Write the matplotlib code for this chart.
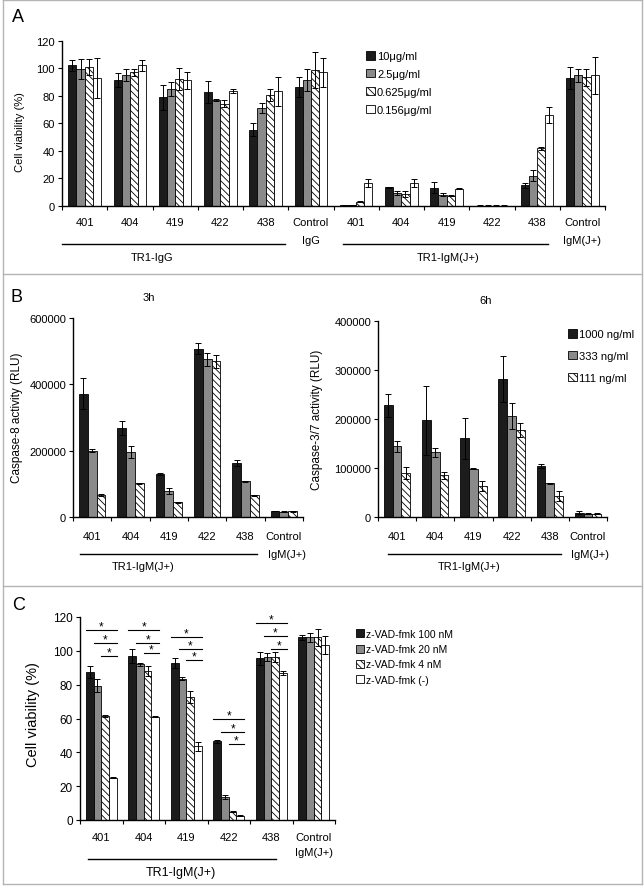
import numpy as np
import matplotlib
matplotlib.use('Agg')
import matplotlib.pyplot as plt
from matplotlib.transforms import blended_transform_factory
from matplotlib.lines import Line2D

plt.rcParams['font.family'] = ['Liberation Sans', 'DejaVu Sans']
plt.rcParams['hatch.linewidth'] = 0.6

# ---- data: panel A ----
a_groups = ['401', '404', '419', '422', '438', 'Control', '401', '404', '419', '422', '438', 'Control']
a_notes = {5: 'IgG', 11: 'IgM(J+)'}
a_labels = ['10μg/ml', '2.5μg/ml', '0.625μg/ml', '0.156μg/ml']
a_10 = [102, 91.5, 79, 83, 55.5, 86.5, 0.5, 13.5, 13.3, 0.3, 15, 92.8]
a_2_5 = [99.5, 95, 85, 77, 71, 91.6, 0.6, 9.2, 8.2, 0.3, 21.8, 94.8]
a_0_625 = [101, 97.2, 92.4, 74.2, 80.7, 98.9, 3.2, 8.7, 7.5, 0.3, 42, 93.3]
a_0_156 = [93, 102, 91.2, 83.2, 83.2, 97, 16.5, 16.5, 12.6, 0.3, 66, 94.8]
a_10_err = [4, 5, 9, 8, 4.5, 7.3, 0.2, 0.5, 4, 0.1, 2, 8]
a_2_5_err = [7.5, 4.5, 5, 0.5, 3.7, 7.8, 0.2, 1.5, 1, 0.1, 4, 5]
a_0_625_err = [6, 2.5, 8, 2.5, 4.3, 13, 0.5, 2.5, 0.5, 0.1, 1, 6]
a_0_156_err = [14.5, 4, 6, 1.5, 10.6, 10.5, 3, 3, 0.5, 0.1, 6, 13.6]

# ---- data: panel B ----
b_groups = ['401', '404', '419', '422', '438', 'Control']
b_labels = ['1000 ng/ml', '333 ng/ml', '111 ng/ml']
b3_1000 = [372000, 268000, 130000, 508000, 163000, 18000]
b3_333 = [200000, 196000, 79000, 475000, 108000, 16000]
b3_111 = [66000, 102000, 44000, 469000, 65000, 17000]
b3_1000_err = [46000, 21000, 3000, 17000, 9000, 1000]
b3_333_err = [4000, 19000, 9000, 19000, 1000, 1000]
b3_111_err = [2000, 1500, 1000, 19000, 1500, 2000]
b6_1000 = [228000, 197000, 161000, 281000, 104000, 9000]
b6_333 = [144000, 132000, 98000, 206000, 68500, 7000]
b6_111 = [89500, 84700, 63000, 178000, 43000, 7000]
b6_1000_err = [23000, 71000, 42000, 47000, 5000, 3000]
b6_333_err = [11000, 9000, 1000, 27000, 1000, 500]
b6_111_err = [12000, 7000, 10000, 14000, 9500, 500]

# ---- data: panel C ----
c_groups = ['401', '404', '419', '422', '438', 'Control']
c_labels = ['z-VAD-fmk 100 nM', 'z-VAD-fmk 20 nM', 'z-VAD-fmk 4 nM', 'z-VAD-fmk (-)']
c_100 = [87.5, 97, 93, 46.5, 95.5, 108]
c_20 = [79.5, 92, 83.5, 13.5, 96.5, 108]
c_4 = [61.5, 88, 72.5, 5, 96.5, 108]
c_none = [25, 61, 43.5, 2.5, 87, 103.5]
c_100_err = [3.5, 4, 3, 1, 4, 1.5]
c_20_err = [4, 1, 1, 1, 2.5, 2.5]
c_4_err = [0.4, 3, 3.5, 0.3, 3, 5]
c_none_err = [0.2, 0.2, 2.5, 0.2, 1, 5.5]
# significance bar heights (black/gray/hatched vs untreated)
c_sig = [[112.3, 104.4, 96.9], [112.3, 104.8, 98.5], [108.4, 100.9, 94.4],
         [59.5, 52, 44.7], [116.3, 108.8, 101.3]]

W, H = 644, 887
fig = plt.figure(figsize=(W / 100, H / 100), dpi=100)

fills = ['#1c1c1c', '#8a8a8a', 'white', 'white']
hatches = [None, None, '\\\\\\\\\\', None]


def rect(x0, y0, x1, y1):
    return [x0 / W, 1 - y1 / H, (x1 - x0) / W, (y1 - y0) / H]


def fy(py):
    return 1 - py / H


def bars(ax, series, errs, labels, width):
    n = len(series[0])
    x = np.arange(n)
    k = len(series)
    for i in range(k):
        off = (i - (k - 1) / 2) * width
        ax.bar(x + off, series[i], width, color=fills[i], edgecolor='black',
               linewidth=0.6, hatch=hatches[i], label=labels[i], zorder=2)
        ax.errorbar(x + off, series[i], yerr=errs[i], fmt='none', ecolor='black',
                    elinewidth=0.7, capsize=2, capthick=0.7, zorder=3)
    ax.set_xlim(-0.5, n - 0.5)
    for s in ['top', 'right']:
        ax.spines[s].set_visible(False)
    ax.spines['left'].set_linewidth(1)
    ax.spines['bottom'].set_linewidth(1)
    ax.set_xticks(np.arange(n + 1) - 0.5)
    ax.set_xticklabels([])
    ax.tick_params(axis='x', length=3, width=0.8, direction='out')
    ax.tick_params(axis='y', length=3, width=0.8, direction='out', labelsize=8, pad=2)


def xlabels(ax, groups, y_px, fs=8):
    tr = blended_transform_factory(ax.transData, fig.transFigure)
    for i, g in enumerate(groups):
        ax.text(i, fy(y_px), g, transform=tr, ha='center', va='center', fontsize=fs)


def bracket(ax, x0, x1, y_line, text, x_text, y_text, fs=8):
    tr = blended_transform_factory(ax.transData, fig.transFigure)
    ax.add_line(Line2D([x0, x1], [fy(y_line), fy(y_line)], transform=tr, color='black',
                       lw=1, clip_on=False))
    ax.text(x_text, fy(y_text), text, transform=tr, ha='center', va='center', fontsize=fs)


# ---------- panel A ----------
axA = fig.add_axes(rect(62, 41.7, 605, 207))
bars(axA, [a_10, a_2_5, a_0_625, a_0_156],
     [a_10_err, a_2_5_err, a_0_625_err, a_0_156_err], a_labels, 0.18)
axA.set_ylim(0, 120)
axA.set_yticks(np.arange(0, 121, 20))
xlabels(axA, a_groups, 223)
trA = blended_transform_factory(axA.transData, fig.transFigure)
for i, s in a_notes.items():
    axA.text(i, fy(241), s, transform=trA, ha='center', va='center', fontsize=8)
bracket(axA, -0.5, 4.43, 245, 'TR1-IgG', 1.5, 258)
bracket(axA, 5.71, 10.24, 245, 'TR1-IgM(J+)', 8.03, 258)
fig.text(20 / W, fy(132), 'Cell viability (%)', rotation=90, ha='center', va='center', fontsize=8)
axA.legend(loc='upper left', bbox_to_anchor=(366 / W, fy(52)), bbox_transform=fig.transFigure,
           frameon=False, fontsize=8, handlelength=0.8, handleheight=0.8, handletextpad=0.2,
           labelspacing=0.7, borderpad=0, borderaxespad=0)
fig.text(12 / W, fy(18), 'A', fontsize=13, va='center')

# ---------- panel B ----------
axB1 = fig.add_axes(rect(73, 319, 303, 518))
bars(axB1, [b3_1000, b3_333, b3_111], [b3_1000_err, b3_333_err, b3_111_err], b_labels, 0.23)
axB1.set_ylim(0, 600000)
axB1.set_yticks([0, 200000, 400000, 600000])
xlabels(axB1, b_groups, 537)
trB1 = blended_transform_factory(axB1.transData, fig.transFigure)
axB1.text(5.09, fy(555), 'IgM(J+)', transform=trB1, ha='center', va='center', fontsize=8)
bracket(axB1, -0.32, 4.3, 555, 'TR1-IgM(J+)', 1.33, 567)
axB1.text(0.33, fy(298), '3h', transform=blended_transform_factory(axB1.transAxes, fig.transFigure),
          ha='center', va='center', fontsize=8)
fig.text(17 / W, fy(418), 'Caspase-8 activity (RLU)', rotation=90, ha='center', va='center', fontsize=8.5)

axB2 = fig.add_axes(rect(378, 322, 607, 518))
bars(axB2, [b6_1000, b6_333, b6_111], [b6_1000_err, b6_333_err, b6_111_err], b_labels, 0.23)
axB2.set_ylim(0, 400000)
axB2.set_yticks([0, 100000, 200000, 300000, 400000])
xlabels(axB2, b_groups, 537)
trB2 = blended_transform_factory(axB2.transData, fig.transFigure)
axB2.text(5.05, fy(555), 'IgM(J+)', transform=trB2, ha='center', va='center', fontsize=8)
bracket(axB2, -0.24, 4.29, 555, 'TR1-IgM(J+)', 1.9, 567)
axB2.text(0.47, fy(301), '6h', transform=blended_transform_factory(axB2.transAxes, fig.transFigure),
          ha='center', va='center', fontsize=8)
fig.text(317 / W, fy(420), 'Caspase-3/7 activity (RLU)', rotation=90, ha='center', va='center', fontsize=8.5)
axB2.legend(loc='upper left', bbox_to_anchor=(568 / W, fy(330)), bbox_transform=fig.transFigure,
            frameon=False, fontsize=8, handlelength=0.8, handleheight=0.8, handletextpad=0.2,
            labelspacing=1.05, borderpad=0, borderaxespad=0)
fig.text(10 / W, fy(297), 'B', fontsize=13, va='center')

# ---------- panel C ----------
axC = fig.add_axes(rect(80, 618, 335, 821))
bars(axC, [c_100, c_20, c_4, c_none], [c_100_err, c_20_err, c_4_err, c_none_err], c_labels, 0.18)
axC.set_ylim(0, 120)
axC.set_yticks(np.arange(0, 121, 20))
axC.tick_params(axis='y', labelsize=8.5)
xlabels(axC, c_groups[:-1], 838)
trC = blended_transform_factory(axC.transData, fig.transFigure)
axC.text(5.0, fy(838), c_groups[-1], transform=trC, ha='center', va='center', fontsize=8)
axC.text(5.0, fy(853), 'IgM(J+)', transform=trC, ha='center', va='center', fontsize=8)
bracket(axC, -0.31, 4.11, 860, 'TR1-IgM(J+)', 1.88, 873, fs=9)
w = 0.18
for g, levels in enumerate(c_sig):
    right = g + 2 * w
    for j, yl in enumerate(levels):
        left = g - 2 * w + j * w
        axC.plot([left, right], [yl, yl], color='black', lw=0.8, clip_on=False, zorder=4)
        axC.text((left + right) / 2, yl + 0.3, '*', ha='center', va='baseline', fontsize=8.5)
fig.text(33 / W, fy(715), 'Cell viability (%)', rotation=90, ha='center', va='center', fontsize=10.5)
axC.legend(loc='upper left', bbox_to_anchor=(356 / W, fy(630)), bbox_transform=fig.transFigure,
           frameon=False, fontsize=7.5, handlelength=0.8, handleheight=0.8, handletextpad=0.2,
           labelspacing=0.5, borderpad=0, borderaxespad=0)
fig.text(12 / W, fy(605), 'C', fontsize=13, va='center')

# panel frames
gray = '#b4b4b4'
for y in [1, 275, 587, 885]:
    fig.add_artist(Line2D([3 / W, 642 / W], [fy(y), fy(y)], color=gray, lw=1))
for x in [3, 642]:
    fig.add_artist(Line2D([x / W, x / W], [fy(1), fy(885)], color=gray, lw=1))

fig.savefig('out.png', dpi=100)
